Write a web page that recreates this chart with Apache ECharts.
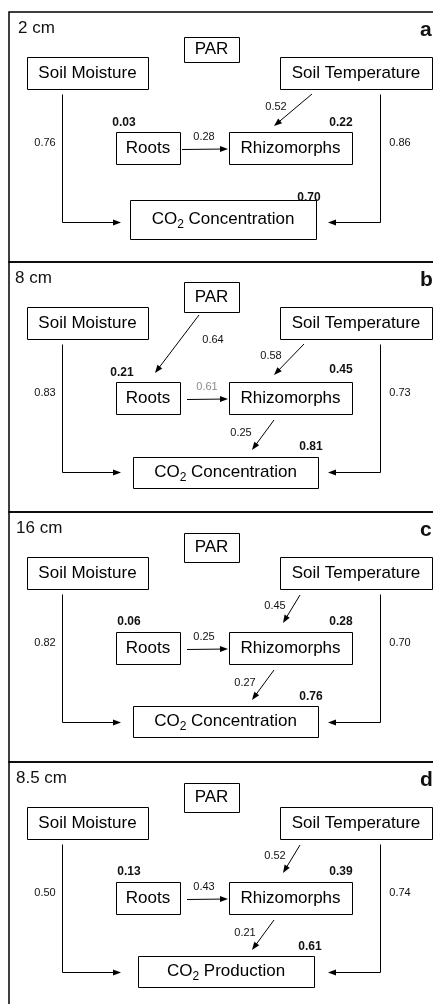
<!DOCTYPE html>
<html lang="en">
<head>
<meta charset="UTF-8">
<title>Path diagrams</title>
<script src="https://cdn.jsdelivr.net/npm/echarts@6/dist/echarts.min.js"></script>
<style>
  html, body { margin: 0; background: #fff; }
  #main { width: 433px; height: 1004px; }
</style>
</head>
<body>
<div id="main"></div>
<script>
// ---- data ----
var panelLetters = ['a', 'b', 'c', 'd'];
var depths = ['2 cm', '8 cm', '16 cm', '8.5 cm'];
var responseNames = ['Concentration', 'Concentration', 'Concentration', 'Production'];
// path coefficients
var moistureToCO2 = [0.76, 0.83, 0.82, 0.50];
var temperatureToCO2 = [0.86, 0.73, 0.70, 0.74];
var temperatureToRhizo = [0.52, 0.58, 0.45, 0.52];
var rootsToRhizo = [0.28, 0.61, 0.25, 0.43];
var parToRoots = [null, 0.64, null, null];
var rhizoToCO2 = [null, 0.25, 0.27, 0.21];
// explained variance of each endogenous box
var rootsR2 = [0.03, 0.21, 0.06, 0.13];
var rhizoR2 = [0.22, 0.45, 0.28, 0.39];
var responseR2 = [0.70, 0.81, 0.76, 0.61];

// ---- layout (axis units: x = px, y = px from panel top) ----
var PANEL_H = 250, TOP = 12;
var FONT = 'Liberation Sans, Arial, sans-serif';
var boxMoist = [27, 148, 45, 77];
var boxTemp = [280, 432, 45, 77];
var boxRoots = [116, 180, 120, 152];
var boxRhizo = [229, 352, 120, 152];
var boxPar = [[184, 239, 25, 50], [184, 239, 20, 50], [184, 239, 21, 50], [184, 239, 21, 50]];
var boxResp = [[130, 316, 188, 227], [133, 318, 195, 226], [133, 318, 194, 225], [138, 314, 194, 225]];
var tempArrow = [[312, 82, 274, 114], [304, 82, 274, 113], [300, 83, 283, 111], [300, 83, 283, 111]];
var tempCoefPos = [[276, 95], [271, 94], [275, 94], [275, 94]];
var rootsArrowX = [182, 187, 187, 187];
var rootsCoefPos = [[204, 125], [207, 125], [204, 125], [204, 125]];
var rhizoCoefPos = [null, [241, 171], [245, 171], [245, 171]];
var rootsR2Pos = [[124, 111], [122, 111], [129, 110], [129, 110]];
var rhizoR2Pos = [[341, 111], [341, 108], [341, 110], [341, 110]];
var respR2Pos = [[309, 186], [311, 185], [311, 185], [310, 185]];
var depthX = [18, 15, 16, 16];

var measureCtx = document.createElement('canvas').getContext('2d');
function textWidth(s, size) {
    measureCtx.font = size + 'px ' + FONT;
    return measureCtx.measureText(s).width;
}
function fmt(v) { return v.toFixed(2); }

function panelElements(p) {
    var els = [];
    els.push({t: 'box', b: boxPar[p], label: 'PAR'});
    els.push({t: 'box', b: boxMoist, label: 'Soil Moisture'});
    els.push({t: 'box', b: boxTemp, label: 'Soil Temperature'});
    els.push({t: 'box', b: boxRoots, label: 'Roots'});
    els.push({t: 'box', b: boxRhizo, label: 'Rhizomorphs'});
    els.push({t: 'resp', b: boxResp[p], label: responseNames[p]});

    els.push({t: 'text', x: depthX[p], y: 16, text: depths[p], size: 17, align: 'left'});
    els.push({t: 'text', x: 420, y: 18, text: panelLetters[p], size: 21, bold: true, align: 'left'});

    // moisture and temperature direct paths to CO2
    els.push({t: 'path', pts: [[62, 82], [62, 210], [121, 210]]});
    els.push({t: 'path', pts: [[380, 82], [380, 210], [328, 210]]});
    els.push({t: 'text', x: 45, y: 131, text: fmt(moistureToCO2[p]), size: 11});
    els.push({t: 'text', x: 400, y: 131, text: fmt(temperatureToCO2[p]), size: 11});

    var ta = tempArrow[p];
    els.push({t: 'path', pts: [[ta[0], ta[1]], [ta[2], ta[3]]]});
    els.push({t: 'text', x: tempCoefPos[p][0], y: tempCoefPos[p][1], text: fmt(temperatureToRhizo[p]), size: 11});

    els.push({t: 'path', pts: [[rootsArrowX[p], 137], [228, 137]]});
    // panel b prints this coefficient in grey
    els.push({t: 'text', x: rootsCoefPos[p][0], y: rootsCoefPos[p][1], text: fmt(rootsToRhizo[p]), size: 11,
        color: p === 1 ? '#8a8a8a' : '#111'});

    if (parToRoots[p] != null) {
        els.push({t: 'path', pts: [[199, 53], [155, 111]]});
        els.push({t: 'text', x: 213, y: 78, text: fmt(parToRoots[p]), size: 11});
    }
    if (rhizoToCO2[p] != null) {
        els.push({t: 'path', pts: [[274, 158], [252, 188]]});
        els.push({t: 'text', x: rhizoCoefPos[p][0], y: rhizoCoefPos[p][1], text: fmt(rhizoToCO2[p]), size: 11});
    }

    els.push({t: 'text', x: rootsR2Pos[p][0], y: rootsR2Pos[p][1], text: fmt(rootsR2[p]), size: 12, bold: true});
    els.push({t: 'text', x: rhizoR2Pos[p][0], y: rhizoR2Pos[p][1], text: fmt(rhizoR2[p]), size: 12, bold: true});
    els.push({t: 'text', x: respR2Pos[p][0], y: respR2Pos[p][1], text: fmt(responseR2[p]), size: 12, bold: true});
    return els;
}

function textEl(x, y, text, size, bold, align, color) {
    return {
        type: 'text', x: x, y: y,
        style: {
            text: text, fontSize: size, fontFamily: FONT, fontWeight: bold ? 'bold' : 'normal',
            fill: color || '#111', align: align || 'center', textAlign: align || 'center',
            verticalAlign: 'middle', textVerticalAlign: 'middle'
        }
    };
}

function crisp(v) { return Math.round(v) + 0.5; }

function makeRender(els) {
    return function (params, api) {
        var e = els[params.dataIndex];
        var pt = function (x, y) { return api.coord([x, y]); };
        if (e.t === 'box' || e.t === 'resp') {
            var a = pt(e.b[0], e.b[2]), c = pt(e.b[1], e.b[3]);
            var x0 = crisp(a[0]), y0 = crisp(a[1]), x1 = crisp(c[0]), y1 = crisp(c[1]);
            var kids = [{
                type: 'rect', shape: {x: x0, y: y0, width: x1 - x0, height: y1 - y0},
                style: {fill: '#fff', stroke: '#000', lineWidth: 1}
            }];
            var cx = (a[0] + c[0]) / 2, cy = (a[1] + c[1]) / 2;
            if (e.t === 'box') {
                kids.push(textEl(cx, cy, e.label, 17, false, 'center', '#000'));
            } else {
                var rest = ' ' + e.label;
                var w1 = textWidth('CO', 17), w2 = textWidth('2', 12), w3 = textWidth(rest, 17);
                var sx = cx - (w1 + w2 + w3) / 2;
                kids.push(textEl(sx, cy, 'CO', 17, false, 'left', '#000'));
                kids.push(textEl(sx + w1, cy + 5, '2', 12, false, 'left', '#000'));
                kids.push(textEl(sx + w1 + w2, cy, rest, 17, false, 'left', '#000'));
            }
            return {type: 'group', children: kids};
        }
        if (e.t === 'path') {
            var pts = e.pts.map(function (q) { var r = pt(q[0], q[1]); return [r[0], r[1]]; });
            // keep axis-parallel segments crisp
            for (var i = 0; i < pts.length; i++) {
                if (pts.length > 2 || pts[0][1] === pts[1][1]) {
                    pts[i] = [pts.length > 2 && i < 2 ? crisp(pts[i][0]) : pts[i][0], crisp(pts[i][1])];
                }
            }
            var n = pts.length, tip = pts[n - 1], prev = pts[n - 2];
            var dx = tip[0] - prev[0], dy = tip[1] - prev[1], len = Math.sqrt(dx * dx + dy * dy);
            var ux = dx / len, uy = dy / len, L = 8, W = 3;
            var bx = tip[0] - ux * L, by = tip[1] - uy * L;
            var line = pts.slice(0, n - 1).concat([[bx + ux, by + uy]]);
            return {
                type: 'group', children: [
                    {type: 'polyline', shape: {points: line}, style: {stroke: '#000', lineWidth: 1, fill: null}},
                    {type: 'polygon', shape: {points: [tip, [bx - uy * W, by + ux * W], [bx + uy * W, by - ux * W]]},
                        style: {fill: '#000'}}
                ]
            };
        }
        var q = pt(e.x, e.y);
        return textEl(q[0], q[1], e.text, e.size, e.bold, e.align, e.color);
    };
}

var grids = [], xAxes = [], yAxes = [], series = [];
panelLetters.forEach(function (letter, p) {
    grids.push({left: 9, top: TOP + p * PANEL_H, width: 440, height: PANEL_H,
        outerBoundsMode: 'none', containLabel: false,
        show: true, borderColor: '#000', borderWidth: 1.5});
    xAxes.push({gridIndex: p, type: 'value', min: 9, max: 449, show: false});
    yAxes.push({gridIndex: p, type: 'value', min: 0, max: PANEL_H, inverse: true, show: false});
    var els = panelElements(p);
    series.push({
        type: 'custom', name: 'panel ' + letter, xAxisIndex: p, yAxisIndex: p,
        data: els.map(function (e, k) { return [k, 0]; }),
        renderItem: makeRender(els), silent: true
    });
});

var chart = echarts.init(document.getElementById('main'), null, {renderer: 'canvas'});
chart.setOption({
    backgroundColor: '#fff',
    animation: false,
    grid: grids,
    xAxis: xAxes,
    yAxis: yAxes,
    series: series
});
</script>
</body>
</html>
